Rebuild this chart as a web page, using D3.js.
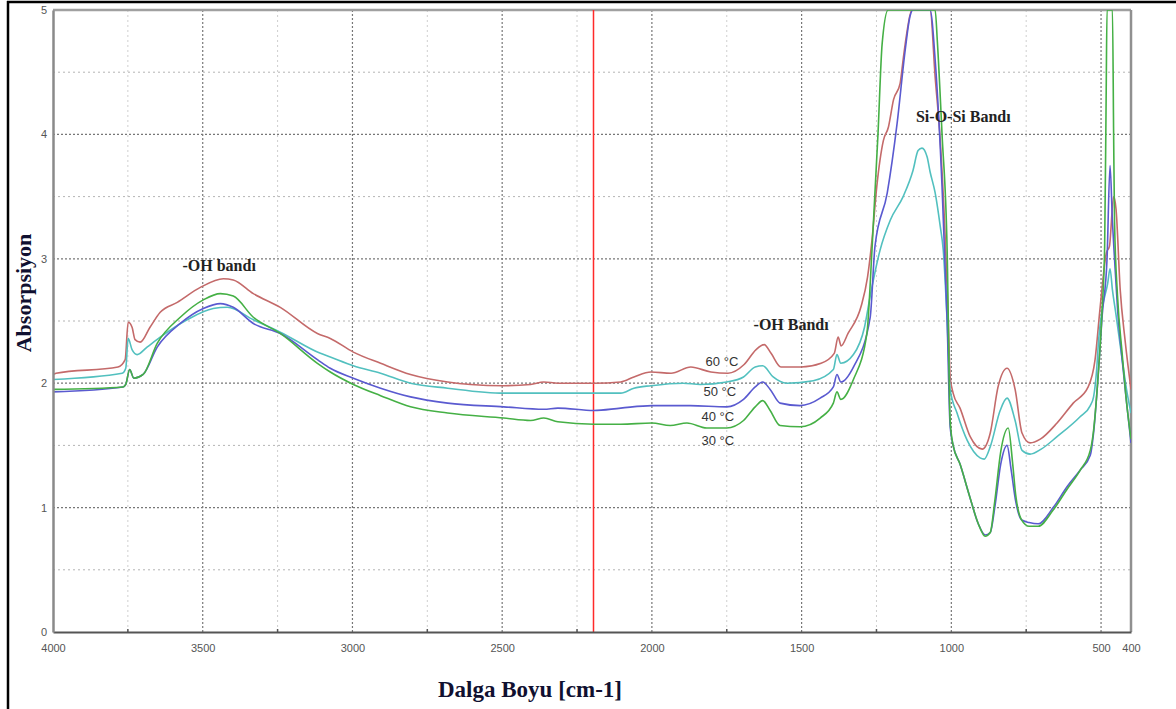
<!DOCTYPE html>
<html>
<head>
<meta charset="utf-8">
<script src="https://cdn.jsdelivr.net/npm/d3@7"></script>
<style>
  html, body { margin: 0; padding: 0; background: #fff; }
  svg { display: block; }
</style>
</head>
<body>
<svg id="chart" width="1176" height="709"></svg>
<script>
// ---------------- DATA ----------------
const xTicks = [4000, 3500, 3000, 2500, 2000, 1500, 1000, 500, 400];
const xMinorGrid = [3750, 3250, 2750, 2250, 1750, 1250, 750];
const xMajorGrid = [3500, 3000, 2500, 2000, 1500, 1000, 500];
const yTicks = [0, 1, 2, 3, 4, 5];
const yMajorGrid = [1, 2, 3, 4];
const yMinorGrid = [0.5, 1.5, 2.5, 3.5, 4.5];
const markerLine = 2195;

const seriesNames = ["60 °C", "50 °C", "40 °C", "30 °C"];

const s60 = [[4000,2.07],[3990,2.08],[3783,2.13],[3759,2.19],[3749,2.49],[3736,2.45],[3726,2.35],[3709,2.33],[3676,2.45],[3642,2.57],[3585,2.65],[3508,2.77],[3431,2.84],[3398,2.83],[3331,2.72],[3241,2.61],[3117,2.40],[3074,2.36],[2997,2.25],[2906,2.16],[2806,2.07],[2682,2.01],[2605,1.99],[2495,1.98],[2405,1.99],[2361,2.01],[2314,2.00],[2194,2.00],[2104,2.01],[2060,2.05],[2003,2.09],[1936,2.08],[1870,2.13],[1803,2.09],[1746,2.08],[1692,2.15],[1652,2.27],[1625,2.31],[1602,2.24],[1569,2.13],[1502,2.13],[1435,2.16],[1391,2.24],[1378,2.37],[1368,2.30],[1345,2.40],[1301,2.62],[1280,2.85],[1265,3.15],[1249,3.58],[1227,3.95],[1210,4.06],[1193,4.28],[1171,4.41],[1161,4.60],[1149,4.81],[1132,5.0],[1071,5.0],[1054,4.46],[1037,3.95],[1021,3.2],[1010,2.5],[1004,2.05],[994,1.92],[971,1.80],[937,1.57],[897,1.47],[870,1.6],[844,1.97],[814,2.12],[787,1.95],[764,1.6],[737,1.52],[703,1.55],[647,1.68],[593,1.84],[543,1.97],[520,2.19],[503,2.61],[482,3.05],[472,3.1],[458,3.5],[450,3.4],[436,2.75],[420,2.35],[400,1.95]];

const s50 = [[4000,2.03],[3769,2.08],[3757,2.12],[3749,2.36],[3736,2.27],[3719,2.23],[3686,2.29],[3642,2.37],[3552,2.51],[3465,2.60],[3418,2.61],[3331,2.51],[3241,2.41],[3107,2.24],[3074,2.21],[2997,2.14],[2906,2.08],[2806,2.00],[2682,1.96],[2495,1.92],[2314,1.92],[2194,1.92],[2104,1.92],[2060,1.96],[2003,1.98],[1896,2.00],[1839,1.99],[1750,2.01],[1694,2.05],[1655,2.13],[1630,2.14],[1595,2.05],[1550,2.00],[1461,2.02],[1394,2.11],[1382,2.23],[1369,2.16],[1327,2.23],[1290,2.45],[1271,2.70],[1238,3.07],[1204,3.31],[1161,3.50],[1128,3.71],[1111,3.87],[1098,3.89],[1081,3.82],[1071,3.70],[1054,3.53],[1037,3.26],[1027,3.07],[1014,2.5],[1004,1.95],[981,1.76],[947,1.54],[904,1.40],[890,1.39],[870,1.49],[837,1.78],[814,1.88],[787,1.70],[764,1.46],[737,1.43],[700,1.47],[647,1.57],[570,1.73],[536,1.82],[525,1.89],[515,2.1],[508,2.35],[496,2.6],[478,2.8],[470,2.92],[462,2.75],[450,2.55],[430,2.2],[415,1.95],[400,1.76]];

const s40 = [[4000,1.93],[3766,1.97],[3757,1.99],[3744,2.11],[3730,2.04],[3699,2.07],[3652,2.29],[3575,2.48],[3498,2.60],[3441,2.64],[3398,2.61],[3331,2.48],[3241,2.40],[3117,2.19],[3074,2.12],[2997,2.04],[2906,1.96],[2806,1.89],[2682,1.84],[2495,1.81],[2361,1.79],[2314,1.80],[2194,1.78],[2104,1.80],[2000,1.82],[1872,1.82],[1750,1.81],[1694,1.87],[1655,1.97],[1630,2.01],[1605,1.95],[1572,1.84],[1505,1.82],[1438,1.88],[1394,1.97],[1382,2.07],[1369,2.01],[1327,2.13],[1271,2.53],[1255,3.10],[1214,3.53],[1181,4.09],[1154,4.68],[1138,4.95],[1128,5.0],[1071,5.0],[1054,4.6],[1031,3.58],[1014,2.5],[1004,1.65],[994,1.5],[971,1.35],[940,1.1],[910,0.87],[887,0.78],[870,0.8],[855,1.0],[835,1.35],[814,1.5],[800,1.3],[785,1.05],[765,0.9],[740,0.88],[710,0.87],[660,1.0],[613,1.17],[570,1.3],[536,1.42],[525,1.6],[513,1.95],[496,2.55],[480,3.0],[470,3.75],[462,3.3],[455,3.0],[445,2.6],[430,2.2],[415,1.85],[400,1.52]];

const s30 = [[4000,1.95],[3766,1.97],[3757,1.99],[3744,2.11],[3730,2.04],[3699,2.07],[3652,2.32],[3575,2.53],[3498,2.67],[3441,2.72],[3398,2.70],[3331,2.53],[3241,2.40],[3117,2.16],[3074,2.09],[2997,1.99],[2906,1.90],[2806,1.81],[2682,1.76],[2495,1.72],[2405,1.70],[2361,1.72],[2314,1.69],[2194,1.67],[2104,1.67],[2000,1.68],[1939,1.66],[1883,1.68],[1817,1.64],[1750,1.64],[1694,1.70],[1655,1.81],[1630,1.86],[1605,1.78],[1572,1.66],[1505,1.65],[1438,1.72],[1394,1.84],[1382,1.93],[1369,1.87],[1327,2.03],[1282,2.40],[1265,3.07],[1245,4.0],[1231,4.73],[1211,5.0],[1054,5.0],[1047,4.76],[1031,4.0],[1014,3.07],[1004,1.7],[994,1.5],[971,1.35],[940,1.1],[910,0.87],[887,0.77],[870,0.8],[855,1.05],[835,1.45],[810,1.64],[795,1.35],[785,1.1],[765,0.9],[740,0.85],[710,0.85],[660,0.98],[613,1.15],[570,1.3],[536,1.46],[525,1.62],[513,1.95],[496,2.61],[488,3.1],[483,4.3],[480,5.0],[462,5.0],[458,4.0],[455,3.3],[445,2.7],[430,2.25],[415,1.85],[400,1.55]];

const annotations = [
  {text: "-OH bandı", wn: 3445, v: 2.9},
  {text: "-OH Bandı", wn: 1535, v: 2.43},
  {text: "Si-O-Si Bandı", wn: 960, v: 4.1}
];
const tempLabels = [
  {text: "60 °C", wn: 1766, v: 2.14},
  {text: "50 °C", wn: 1773, v: 1.90},
  {text: "40 °C", wn: 1780, v: 1.70},
  {text: "30 °C", wn: 1780, v: 1.50}
];

// ---------------- CHART ----------------
const svg = d3.select("#chart");
const pL = 53, pR = 1131, pT = 10, pB = 632;
const x = d3.scaleLinear().domain([4000, 400]).range([pL, pR]);
const y = d3.scaleLinear().domain([0, 5]).range([pB, pT]);

// outer border
svg.append("line").attr("x1", 8).attr("x2", 8).attr("y1", 1).attr("y2", 709)
  .attr("stroke", "#000").attr("stroke-width", 2.5);
svg.append("line").attr("x1", 7).attr("x2", 1176).attr("y1", 2).attr("y2", 2)
  .attr("stroke", "#000").attr("stroke-width", 2.5);

// grid
const g = svg.append("g");
g.selectAll(".vmin").data(xMinorGrid).join("line")
  .attr("x1", d => x(d)).attr("x2", d => x(d)).attr("y1", pT).attr("y2", pB)
  .attr("stroke", "#cfcfcf").attr("stroke-width", 1).attr("stroke-dasharray", "2,3");
g.selectAll(".hmin").data(yMinorGrid).join("line")
  .attr("x1", pL).attr("x2", pR).attr("y1", d => y(d)).attr("y2", d => y(d))
  .attr("stroke", "#b4b4b4").attr("stroke-width", 1).attr("stroke-dasharray", "2,3");
g.selectAll(".vmaj").data(xMajorGrid).join("line")
  .attr("x1", d => x(d)).attr("x2", d => x(d)).attr("y1", pT).attr("y2", pB)
  .attr("stroke", "#777").attr("stroke-width", 1.2).attr("stroke-dasharray", "2,2");
g.selectAll(".hmaj").data(yMajorGrid).join("line")
  .attr("x1", pL).attr("x2", pR).attr("y1", d => y(d)).attr("y2", d => y(d))
  .attr("stroke", "#777").attr("stroke-width", 1.2).attr("stroke-dasharray", "2,2");

// frame
svg.append("line").attr("x1", pL).attr("x2", pR).attr("y1", pT).attr("y2", pT)
  .attr("stroke", "#a0a0a0").attr("stroke-width", 2.5);
svg.append("line").attr("x1", pR).attr("x2", pR).attr("y1", pT).attr("y2", pB)
  .attr("stroke", "#909090").attr("stroke-width", 2.5);

// marker line
svg.append("line").attr("x1", x(markerLine)).attr("x2", x(markerLine))
  .attr("y1", pT).attr("y2", pB).attr("stroke", "#ff2a2a").attr("stroke-width", 1.5);

// series
svg.append("clipPath").attr("id", "clip").append("rect")
  .attr("x", pL).attr("y", pT).attr("width", pR - pL).attr("height", pB - pT);
const lineGen = d3.line().x(d => x(d[0])).y(d => y(d[1])).curve(d3.curveMonotoneX);
const series = [
  {name: seriesNames[0], data: s60, color: "#c46a6a"},
  {name: seriesNames[1], data: s50, color: "#52c0bf"},
  {name: seriesNames[2], data: s40, color: "#5a5ad0"},
  {name: seriesNames[3], data: s30, color: "#45b045"}
];
const sg = svg.append("g").attr("clip-path", "url(#clip)");
sg.selectAll("path").data(series).join("path")
  .attr("d", d => lineGen(d.data.slice().sort((a, b) => b[0] - a[0])))
  .attr("fill", "none").attr("stroke", d => d.color).attr("stroke-width", 1.6)
  .attr("stroke-linejoin", "round");

// axes
const xAxis = d3.axisBottom(x).tickValues(xTicks).tickSize(0).tickPadding(12).tickFormat(d3.format("d"));
const xg = svg.append("g").attr("transform", `translate(0,${pB})`).call(xAxis);
xg.select(".domain").attr("stroke", "#555").attr("stroke-width", 2.2);
xg.selectAll("text").attr("fill", "#555").style("font-family", "Liberation Sans, Arial, sans-serif").style("font-size", "11px");

const yAxis = d3.axisLeft(y).tickValues(yTicks).tickSize(0).tickPadding(6).tickFormat(d3.format("d"));
const yg = svg.append("g").attr("transform", `translate(${pL},0)`).call(yAxis);
yg.select(".domain").attr("stroke", "#8a8a8a").attr("stroke-width", 2.5);
yg.selectAll("text").attr("fill", "#555").style("font-family", "Liberation Sans, Arial, sans-serif").style("font-size", "11px");

// small minor tick marks on bottom axis
svg.selectAll(".mtick").data(xMinorGrid).join("line")
  .attr("x1", d => x(d)).attr("x2", d => x(d)).attr("y1", pB - 3).attr("y2", pB)
  .attr("stroke", "#555").attr("stroke-width", 1.5);

// axis titles
svg.append("text").attr("x", 530).attr("y", 697).attr("text-anchor", "middle")
  .style("font-family", "Liberation Serif, Times New Roman, serif").style("font-weight", "bold")
  .style("font-size", "23px").attr("fill", "#101030").text("Dalga Boyu [cm-1]");
svg.append("text").attr("transform", "translate(31,293) rotate(-90)").attr("text-anchor", "middle")
  .style("font-family", "Liberation Serif, Times New Roman, serif").style("font-weight", "bold")
  .style("font-size", "22px").attr("fill", "#101030").text("Absorpsiyon");

// annotations
svg.selectAll(".ann").data(annotations).join("text")
  .attr("x", d => x(d.wn)).attr("y", d => y(d.v)).attr("text-anchor", "middle")
  .style("font-family", "Liberation Serif, Times New Roman, serif").style("font-weight", "bold")
  .style("font-size", "16px").attr("fill", "#222").text(d => d.text);
svg.selectAll(".tl").data(tempLabels).join("text")
  .attr("x", d => x(d.wn)).attr("y", d => y(d.v)).attr("text-anchor", "middle")
  .style("font-family", "Liberation Sans, Arial, sans-serif")
  .style("font-size", "13px").attr("fill", "#333").text(d => d.text);
</script>
</body>
</html>
